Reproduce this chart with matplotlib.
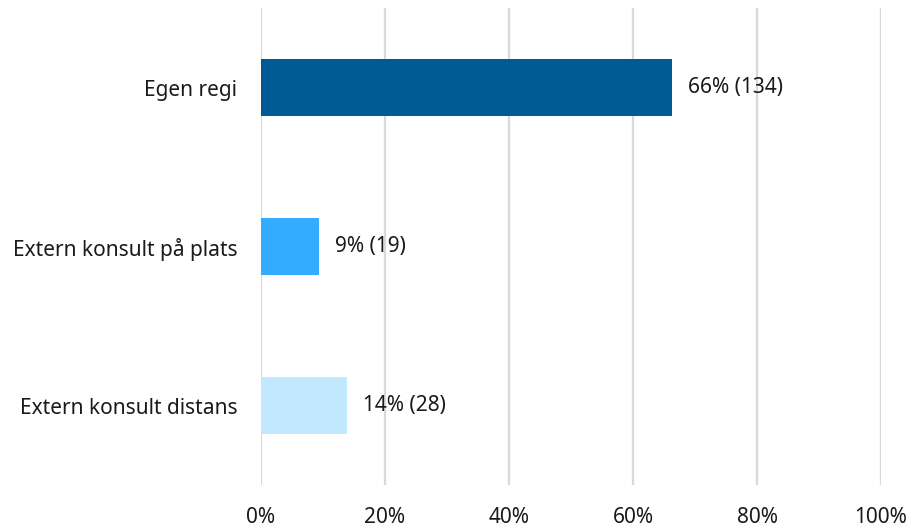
import matplotlib
matplotlib.use("Agg")
import matplotlib.pyplot as plt
from matplotlib.ticker import FuncFormatter

categories = ["Egen regi", "Extern konsult på plats", "Extern konsult distans"]
percents = [66.3, 9.4, 13.9]
labels = ["66% (134)", "9% (19)", "14% (28)"]
colors = ["#005A94", "#33ABFF", "#C2E8FF"]
xticks = [0, 20, 40, 60, 80, 100]

plt.rcParams['font.family'] = ['Noto Sans', 'DejaVu Sans']
fig = plt.figure(figsize=(9.09, 5.31), dpi=100)
ax = fig.add_axes([261/909, 1-485/531, 620/909, 477/531])

fs = 15
y = list(range(len(categories)))
ax.barh(y, percents, height=0.36, color=colors, zorder=3)
for yi, p, lab in zip(y, percents, labels):
    ax.text(p + 2.5, yi, lab, va='center', ha='left', fontsize=fs, color='#1a1a1a')

ax.set_xlim(0, 100)
ax.set_ylim(2.5, -0.5)
ax.set_xticks(xticks)
ax.xaxis.set_major_formatter(FuncFormatter(lambda v, _: f"{v:.0f}%"))
ax.set_yticks(y)
ax.set_yticklabels(categories)
ax.tick_params(axis='x', length=0, pad=16, labelsize=fs, labelcolor='#1a1a1a')
ax.tick_params(axis='y', length=0, pad=17, labelsize=fs, labelcolor='#1a1a1a')
ax.grid(axis='x', color='#d9d9d9', linewidth=1.6, zorder=0)
for s in ax.spines.values():
    s.set_visible(False)

fig.savefig("out.png", dpi=100)
